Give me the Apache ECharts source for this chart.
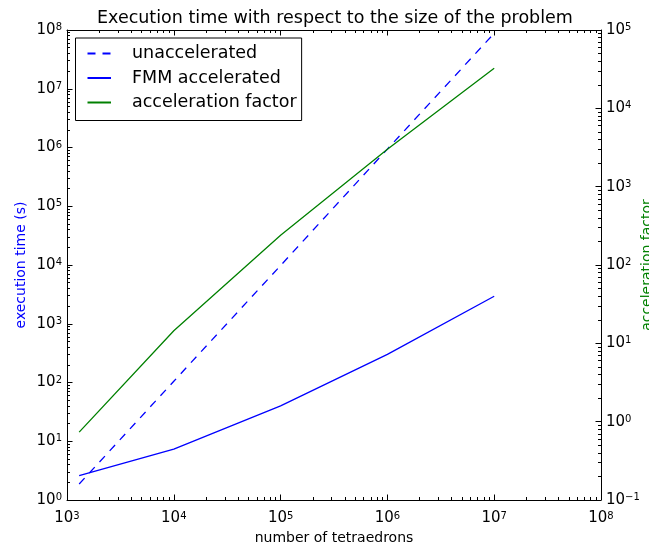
<!DOCTYPE html>
<html>
<head>
<meta charset="utf-8">
<script src="https://cdn.jsdelivr.net/npm/echarts@6/dist/echarts.min.js"></script>
<style>html,body{margin:0;padding:0;background:#fff}#c{width:649px;height:548px}</style>
</head>
<body>
<div id="c"></div>
<script>
var sizes = [1300, 10000, 100000, 1000000, 10000000];
var unaccelerated = [1.87, 105, 9800, 940000, 88000000];
var fmmAccelerated = [2.59, 7.35, 40, 301, 2940];
var accelerationFactor = [0.735, 14.5, 240, 3000, 32500];

var xMajor = [1e3, 1e4, 1e5, 1e6, 1e7, 1e8];
var yLeftMajor = [1e0, 1e1, 1e2, 1e3, 1e4, 1e5, 1e6, 1e7, 1e8];
var yRightMajor = [1e-1, 1e0, 1e1, 1e2, 1e3, 1e4, 1e5];

function minors(lo, hi) {
  var out = [];
  for (var e = lo; e < hi; e++) {
    for (var m = 2; m <= 9; m++) out.push(m * Math.pow(10, e));
  }
  return out;
}
var xMinor = minors(3, 8);
var yLeftMinor = minors(0, 8);
var yRightMinor = minors(-1, 5);

var FONT = 'DejaVu Sans';
function fmt(v) {
  var e = Math.round(Math.log(v) / Math.LN10);
  return '{b|10}{s|' + String(e).replace('-', '\u2212') + '}';
}
var rich = {
  b: {fontSize: 15, fontFamily: FONT, color: '#000', verticalAlign: 'bottom', lineHeight: 15},
  s: {fontSize: 10, fontFamily: FONT, color: '#000', verticalAlign: 'top', lineHeight: 10, padding: [0, 0, 9, 0]}
};

function zip(xs, ys) { return xs.map(function (x, i) { return [x, ys[i]]; }); }

var MAJ = 5.5, MIN = 3;
function majorAxis(extra) {
  var a = {
    type: 'log', logBase: 10,
    nameMoveOverlap: false,
    axisLine: {show: true, onZero: false, lineStyle: {color: '#000', width: 1}},
    splitLine: {show: false},
    minorTick: {show: false}
  };
  for (var k in extra) a[k] = extra[k];
  return a;
}
function minorAxis(extra, vals) {
  var a = {
    type: 'log', logBase: 10,
    axisLine: {show: false, onZero: false},
    axisTick: {show: true, inside: true, length: MIN, customValues: vals, lineStyle: {color: '#000'}},
    axisLabel: {show: false, customValues: vals},
    splitLine: {show: false}
  };
  for (var k in extra) a[k] = extra[k];
  return a;
}
function majTick(vals) {
  return {show: true, inside: true, length: MAJ, customValues: vals, lineStyle: {color: '#000'}};
}

var chart = echarts.init(document.getElementById('c'), null, {renderer: 'canvas'});
chart.setOption({
  animation: false,
  backgroundColor: '#fff',
  title: {
    text: 'Execution time with respect to the size of the problem',
    left: 97, top: 9, padding: 0,
    textStyle: {fontFamily: FONT, fontSize: 17.5, fontWeight: 'normal', color: '#000'}
  },
  legend: {
    left: 75.5, top: 38, orient: 'vertical',
    borderColor: '#000', borderWidth: 1, borderRadius: 0,
    padding: [6.5, 5, 9, 11],
    itemWidth: 23.5, itemHeight: 18, itemGap: 6.5,
    itemStyle: {opacity: 0},
    textStyle: {fontFamily: FONT, fontSize: 17.5, lineHeight: 18, color: '#000', padding: [0, 0, 0, 16]},
    data: ['unaccelerated', 'FMM accelerated', 'acceleration factor']
  },
  grid: {left: 67, right: 48, top: 30, bottom: 48, containLabel: false, outerBoundsMode: 'none'},
  xAxis: [
    majorAxis({position: 'bottom', min: 1e3, max: 1e8,
      name: 'number of tetraedrons', nameLocation: 'middle', nameGap: 31,
      nameTextStyle: {fontFamily: FONT, fontSize: 14, color: '#000'},
      axisTick: majTick(xMajor),
      axisLabel: {customValues: xMajor, formatter: fmt, rich: rich, margin: 11}}),
    minorAxis({position: 'bottom', min: 1e3, max: 1e8}, xMinor),
    majorAxis({position: 'top', min: 1e3, max: 1e8,
      axisTick: majTick(xMajor),
      axisLabel: {show: false, customValues: xMajor}}),
    minorAxis({position: 'top', min: 1e3, max: 1e8}, xMinor)
  ],
  yAxis: [
    majorAxis({position: 'left', min: 1e0, max: 1e8,
      name: 'execution time (s)', nameLocation: 'middle', nameGap: 39, nameRotate: 90,
      nameTextStyle: {fontFamily: FONT, fontSize: 14, color: '#0000ff'},
      axisTick: majTick(yLeftMajor),
      axisLabel: {customValues: yLeftMajor, formatter: fmt, rich: rich, margin: 5}}),
    minorAxis({position: 'left', min: 1e0, max: 1e8}, yLeftMinor),
    majorAxis({position: 'right', min: 1e-1, max: 1e5,
      name: 'acceleration factor', nameLocation: 'middle', nameGap: 39, nameRotate: 90,
      nameTextStyle: {fontFamily: FONT, fontSize: 14, color: '#008000'},
      axisTick: majTick(yRightMajor),
      axisLabel: {customValues: yRightMajor, formatter: fmt, rich: rich, margin: 5}}),
    minorAxis({position: 'right', min: 1e-1, max: 1e5}, yRightMinor)
  ],
  series: [
    {name: 'unaccelerated', type: 'line', xAxisIndex: 0, yAxisIndex: 0,
      data: zip(sizes, unaccelerated), symbol: 'none', showSymbol: false,
      lineStyle: {color: '#0000ff', width: 1.3, type: [8, 7]}, itemStyle: {color: '#0000ff'}},
    {name: 'FMM accelerated', type: 'line', xAxisIndex: 0, yAxisIndex: 0,
      data: zip(sizes, fmmAccelerated), symbol: 'none', showSymbol: false,
      lineStyle: {color: '#0000ff', width: 1.3}, itemStyle: {color: '#0000ff'}},
    {name: 'acceleration factor', type: 'line', xAxisIndex: 0, yAxisIndex: 2,
      data: zip(sizes, accelerationFactor), symbol: 'none', showSymbol: false,
      lineStyle: {color: '#008000', width: 1.3}, itemStyle: {color: '#008000'}}
  ]
});
</script>
</body>
</html>
